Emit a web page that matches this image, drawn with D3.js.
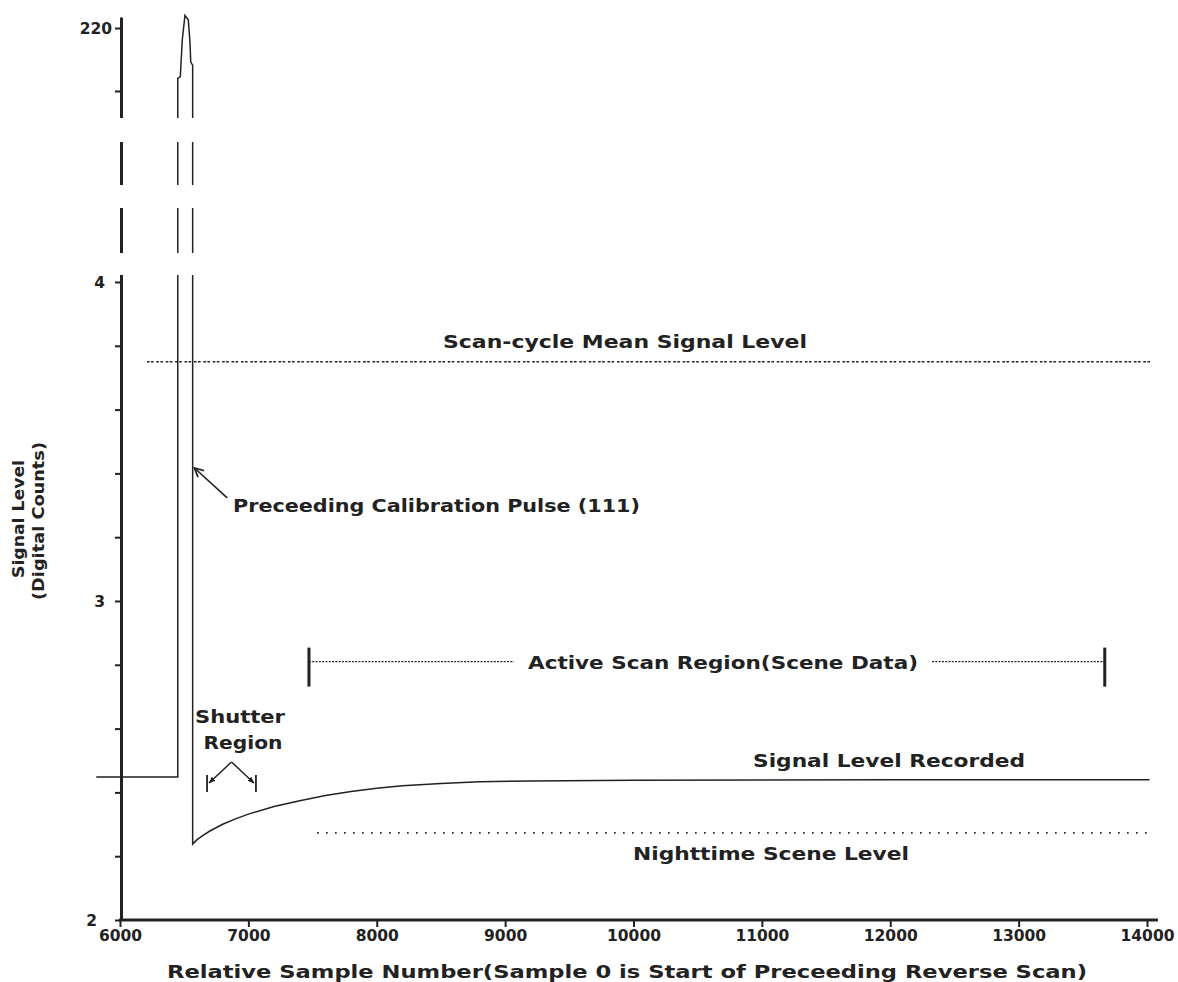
<!DOCTYPE html>
<html>
<head>
<meta charset="utf-8">
<script src="https://cdn.jsdelivr.net/npm/d3@7"></script>
<style>
body { margin: 0; background: #fff; }
svg text { font-family: "DejaVu Sans", sans-serif; font-weight: bold; fill: #222; }
</style>
</head>
<body>
<svg width="1178" height="982"></svg>
<script>
// ticks
var xTicks = [6000, 7000, 8000, 9000, 10000, 11000, 12000, 13000, 14000];
var yTicks = [2, 2.2, 2.4, 2.6, 2.8, 3, 3.2, 3.4, 3.6, 3.8, 4, 210, 220];
var yTickLabels = {2: "2", 3: "3", 4: "4", 220: "220"};

// recorded signal (sample, counts) - flat, calibration pulse, recovery curve
var sigX = [5815, 6450, 6450, 6470, 6485, 6506, 6532, 6545, 6551, 6566, 6566,
            6600, 6650, 6700, 6800, 6900, 7000, 7200, 7400, 7600, 7800, 8000,
            8200, 8500, 8800, 9200, 10000, 11000, 12000, 13000, 14020];
var sigY = [2.448, 2.448, 212.0, 212.3, 218.1, 222.0, 221.3, 217.8, 214.6, 214.1, 2.238,
            2.252, 2.266, 2.279, 2.300, 2.317, 2.332, 2.356, 2.374, 2.390, 2.403, 2.413,
            2.421, 2.428, 2.433, 2.436, 2.438, 2.439, 2.440, 2.440, 2.440];

var meanLevel = 3.75, meanRange = [6210, 14030];
var nightLevel = 2.273, nightRange = [7535, 14035];
var activeRange = [7472, 13671], activeLevel = 2.81;
var shutterRange = [6678, 7059];

var svg = d3.select("svg");
var ink = "#222";

var x = d3.scaleLinear().domain([6000, 14000]).range([120, 1147]);
// broken y axis: 2..4 linear, then a compressed break, then the pulse top
var y = d3.scaleLinear().domain([2, 4.0219, 205.71, 221.75]).range([920, 275, 118, 17]);

var defs = svg.append("defs");
defs.append("marker").attr("id", "vhead").attr("viewBox", "0 0 10 10")
  .attr("refX", 9).attr("refY", 5).attr("markerWidth", 11).attr("markerHeight", 11)
  .attr("markerUnits", "userSpaceOnUse").attr("orient", "auto")
  .append("path").attr("d", "M1,1 L9,5 L1,9").attr("fill", "none").attr("stroke", ink).attr("stroke-width", 1.6);
defs.append("marker").attr("id", "fhead").attr("viewBox", "0 0 10 10")
  .attr("refX", 9).attr("refY", 5).attr("markerWidth", 7).attr("markerHeight", 7)
  .attr("markerUnits", "userSpaceOnUse").attr("orient", "auto")
  .append("path").attr("d", "M0,1 L10,5 L0,9 Z").attr("fill", ink);

// axes
var yAxis = svg.append("g").attr("transform", "translate(121,0)")
  .call(d3.axisLeft(y).tickValues(yTicks).tickSize(6).tickSizeOuter(0).tickPadding(4)
    .tickFormat(function(d) { return yTickLabels[d] || ""; }));
yAxis.select(".domain").attr("stroke", ink).attr("stroke-width", 3);
yAxis.selectAll(".tick line").attr("stroke", ink).attr("stroke-width", 2);
yAxis.selectAll(".tick text").style("font-size", "15.5px").attr("dy", "0.35em")
  .attr("x", function(d) { return d === 2 ? -24 : (d < 10 ? -16 : -9); });

var xAxis = svg.append("g").attr("transform", "translate(0,920)")
  .call(d3.axisBottom(x).tickValues(xTicks).tickSize(7).tickSizeOuter(0).tickPadding(3)
    .tickFormat(d3.format("d")));
xAxis.select(".domain").remove();
xAxis.selectAll(".tick line").attr("stroke", ink).attr("stroke-width", 2);
xAxis.selectAll(".tick text").style("font-size", "15.5px");
svg.append("line").attr("x1", 119).attr("x2", x(14085)).attr("y1", 920).attr("y2", 920)
  .attr("stroke", ink).attr("stroke-width", 3);

// signal
var line = d3.line().x(function(d) { return x(d[0]); }).y(function(d) { return y(d[1]); });
svg.append("path").datum(d3.zip(sigX, sigY)).attr("d", line)
  .attr("fill", "none").attr("stroke", ink).attr("stroke-width", 1.5);

// axis break gaps
var bTop = y(205.71), bBot = y(4.0219), bSpan = bBot - bTop;
[[0, 0.153], [0.427, 0.573], [0.86, 1.0]].forEach(function(g) {
  svg.append("rect").attr("x", 110).attr("width", x(6600) - 110)
    .attr("y", bTop + g[0] * bSpan).attr("height", (g[1] - g[0]) * bSpan).attr("fill", "#fff");
});

// scan-cycle mean
svg.append("line").attr("x1", x(meanRange[0])).attr("x2", x(meanRange[1]))
  .attr("y1", y(meanLevel)).attr("y2", y(meanLevel))
  .attr("stroke", ink).attr("stroke-width", 1.5).attr("stroke-dasharray", "2.6,1.4,2.6,2.8");
svg.append("text").attr("x", 625).attr("y", 348).attr("text-anchor", "middle")
  .attr("textLength", 364).attr("lengthAdjust", "spacingAndGlyphs")
  .style("font-size", "17px").text("Scan-cycle Mean Signal Level");

// nighttime scene level
svg.append("line").attr("x1", x(nightRange[0])).attr("x2", x(nightRange[1]))
  .attr("y1", y(nightLevel)).attr("y2", y(nightLevel))
  .attr("stroke", ink).attr("stroke-width", 1.6).attr("stroke-dasharray", "1.6,7.4");
svg.append("text").attr("x", 771).attr("y", 860).attr("text-anchor", "middle")
  .attr("textLength", 276).attr("lengthAdjust", "spacingAndGlyphs")
  .style("font-size", "17px").text("Nighttime Scene Level");

svg.append("text").attr("x", 889).attr("y", 767).attr("text-anchor", "middle")
  .attr("textLength", 272).attr("lengthAdjust", "spacingAndGlyphs")
  .style("font-size", "17px").text("Signal Level Recorded");

// calibration pulse annotation
svg.append("line").attr("x1", x(6835)).attr("y1", y(3.323)).attr("x2", x(6580)).attr("y2", y(3.417))
  .attr("stroke", ink).attr("stroke-width", 1.6).attr("marker-end", "url(#vhead)");
svg.append("text").attr("x", 233).attr("y", 512)
  .attr("textLength", 407).attr("lengthAdjust", "spacingAndGlyphs")
  .style("font-size", "17px").text("Preceeding Calibration Pulse (111)");

// active scan region
var ay = y(activeLevel);
[activeRange[0], activeRange[1]].forEach(function(v) {
  svg.append("line").attr("x1", x(v)).attr("x2", x(v)).attr("y1", ay - 14).attr("y2", ay + 25)
    .attr("stroke", ink).attr("stroke-width", 3);
});
svg.append("line").attr("x1", x(activeRange[0])).attr("x2", 514).attr("y1", ay).attr("y2", ay)
  .attr("stroke", ink).attr("stroke-width", 1.2).attr("stroke-dasharray", "2,1.3");
svg.append("line").attr("x1", 932).attr("x2", x(activeRange[1])).attr("y1", ay).attr("y2", ay)
  .attr("stroke", ink).attr("stroke-width", 1.2).attr("stroke-dasharray", "2,1.3");
svg.append("text").attr("x", 528).attr("y", ay + 7)
  .attr("textLength", 390).attr("lengthAdjust", "spacingAndGlyphs")
  .style("font-size", "17px").text("Active Scan Region(Scene Data)");

// shutter region
svg.append("text").attr("x", 240).attr("y", 723).attr("text-anchor", "middle")
  .attr("textLength", 90).attr("lengthAdjust", "spacingAndGlyphs")
  .style("font-size", "17px").text("Shutter");
svg.append("text").attr("x", 243).attr("y", 749).attr("text-anchor", "middle")
  .attr("textLength", 79).attr("lengthAdjust", "spacingAndGlyphs")
  .style("font-size", "17px").text("Region");
var sy = 783;
shutterRange.forEach(function(v) {
  svg.append("line").attr("x1", x(v)).attr("x2", x(v)).attr("y1", sy - 8).attr("y2", sy + 9)
    .attr("stroke", ink).attr("stroke-width", 1.8);
});
var peakX = (x(shutterRange[0]) + x(shutterRange[1])) / 2;
shutterRange.forEach(function(v, i) {
  svg.append("line").attr("x1", peakX).attr("y1", 762)
    .attr("x2", x(v) + (i ? -2 : 2)).attr("y2", sy)
    .attr("stroke", ink).attr("stroke-width", 1.5).attr("marker-end", "url(#fhead)");
});

// axis titles
svg.append("text").attr("x", 627).attr("y", 978).attr("text-anchor", "middle")
  .attr("textLength", 920).attr("lengthAdjust", "spacingAndGlyphs")
  .style("font-size", "17px").text("Relative Sample Number(Sample 0 is Start of Preceeding Reverse Scan)");
svg.append("text").attr("transform", "translate(24,519) rotate(-90)").attr("text-anchor", "middle")
  .attr("textLength", 118).attr("lengthAdjust", "spacingAndGlyphs")
  .style("font-size", "16px").text("Signal Level");
svg.append("text").attr("transform", "translate(44,521) rotate(-90)").attr("text-anchor", "middle")
  .attr("textLength", 158).attr("lengthAdjust", "spacingAndGlyphs")
  .style("font-size", "16px").text("(Digital Counts)");
</script>
</body>
</html>
